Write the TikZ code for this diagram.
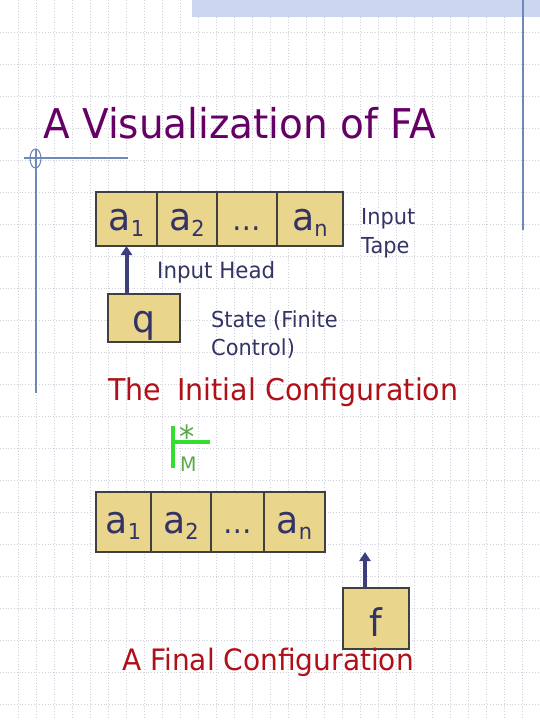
\documentclass[tikz,border=0pt]{standalone}
\usepackage{fontspec}
\setmainfont{DejaVu Sans}[FakeStretch=0.95]
\usetikzlibrary{arrows.meta,positioning}

\definecolor{titlepurple}{RGB}{102,0,102}
\definecolor{inkblue}{RGB}{51,51,102}
\definecolor{headblue}{RGB}{62,62,126}
\definecolor{cfgred}{RGB}{176,16,24}
\definecolor{tapefill}{RGB}{233,213,140}
\definecolor{gridgray}{RGB}{208,208,218}
\definecolor{frameblue}{RGB}{112,136,184}
\definecolor{bandblue}{RGB}{204,214,240}
\definecolor{turngreen}{RGB}{50,222,50}
\definecolor{mgreen}{RGB}{88,168,68}

\newcommand{\fs}[1]{\fontsize{#1}{1.3\dimexpr#1pt\relax}\selectfont}
\newcommand{\tapesym}[2]{#1\raisebox{-6pt}{\fs{22}#2}}

\begin{document}
\begin{tikzpicture}[
  x=1pt,
  y=-1pt,
  gridline/.style={gridgray,dotted,line width=0.8pt},
  frameline/.style={frameblue,line width=1.1pt},
  cell/.style={draw=black!75,fill=tapefill,line width=1.1pt,
    inner sep=0pt,outer sep=0pt,text=inkblue,font=\fs{38},
    text height=26pt,text depth=4pt},
  headarrow/.style={headblue,line width=4pt,
    -{Triangle[length=9pt,width=11pt]}},
  label/.style={inner sep=0pt,text=inkblue},
  cfg/.style={inner sep=0pt,text=cfgred,font=\fs{30}}
]
  \useasboundingbox (0,0) rectangle (540,720);

  % Background grid and slide frame.
  \foreach \x in {18,36,...,522}
    \draw[gridline] (\x,0) -- (\x,720);
  \foreach \y in {32,64,...,704}
    \draw[gridline] (0,\y) -- (540,\y);
  \fill[bandblue] (192,0) rectangle (540,17);
  \draw[frameline] (523,0) -- (523,230);
  \draw[frameline] (24,158) -- (128,158);
  \draw[frameline] (36,150) -- (36,393);
  \draw[frameline] (35.5,158.5) ellipse[x radius=5.5,y radius=9.5];

  % Title.
  \node[anchor=base west,inner sep=0pt,text=titlepurple,font=\fs{41}]
    (title) at (43,138) {A Visualization of FA};

  % Initial configuration: tape, head and state.
  \node[cell,minimum width=61pt,minimum height=54pt,anchor=north west]
    (ia1) at (96,192) {\tapesym{a}{1}};
  \node[cell,minimum width=60pt,minimum height=54pt,right=0pt of ia1]
    (ia2) {\tapesym{a}{2}};
  \node[cell,minimum width=60pt,minimum height=54pt,right=0pt of ia2]
    (idots) {\fs{30}\dots};
  \node[cell,minimum width=66pt,minimum height=54pt,right=0pt of idots]
    (ian) {\tapesym{a}{n}};
  \node[cell,minimum width=72pt,minimum height=48pt,anchor=north west,
    text height=30pt,text depth=2pt]
    (q) at (108,294) {q};
  \draw[headarrow] (q.north -| ia1.south) -- (ia1.south);

  \node[label,anchor=north west,align=left,font=\fontsize{22}{29}\selectfont]
    (tapelab) at (361,208) {Input\\Tape};
  \node[label,anchor=base west,font=\fs{22.5}]
    (headlab) at (157,278) {Input Head};
  \node[label,anchor=north west,align=left,font=\fontsize{22}{28}\selectfont]
    (statelab) at (211,311) {State (Finite\\Control)};

  \node[cfg,anchor=base west] (initlab) at (108,400)
    {The\hspace{16pt}Initial Configuration};

  % Moves in M.
  \draw[turngreen,line width=4pt] (173,426) -- (173,468);
  \draw[turngreen,line width=4pt] (173,442) -- (210,442);
  \node[inner sep=0pt,text=mgreen,font=\fs{32}] (star) at (187,437) {*};
  \node[inner sep=0pt,anchor=base west,text=mgreen,font=\fs{20}]
    (mlab) at (180,471) {M};

  % Final configuration: head past the end of the tape.
  \node[cell,minimum width=55pt,minimum height=60pt,anchor=north west]
    (fa1) at (96,492) {\tapesym{a}{1}};
  \node[cell,minimum width=60pt,minimum height=60pt,right=0pt of fa1]
    (fa2) {\tapesym{a}{2}};
  \node[cell,minimum width=53pt,minimum height=60pt,right=0pt of fa2]
    (fdots) {\fs{30}\dots};
  \node[cell,minimum width=61pt,minimum height=60pt,right=0pt of fdots]
    (fan) {\tapesym{a}{n}};
  \node[cell,minimum width=66pt,minimum height=61pt,anchor=north west,
    text height=36pt,text depth=0pt]
    (f) at (343,588) {f};
  \coordinate (fhead) at (365,552);
  \draw[headarrow] (f.north -| fhead) -- (fhead);

  \node[cfg,anchor=base west,font=\fs{29.5}] (finallab) at (122,670)
    {A Final Configuration};
\end{tikzpicture}
\end{document}
